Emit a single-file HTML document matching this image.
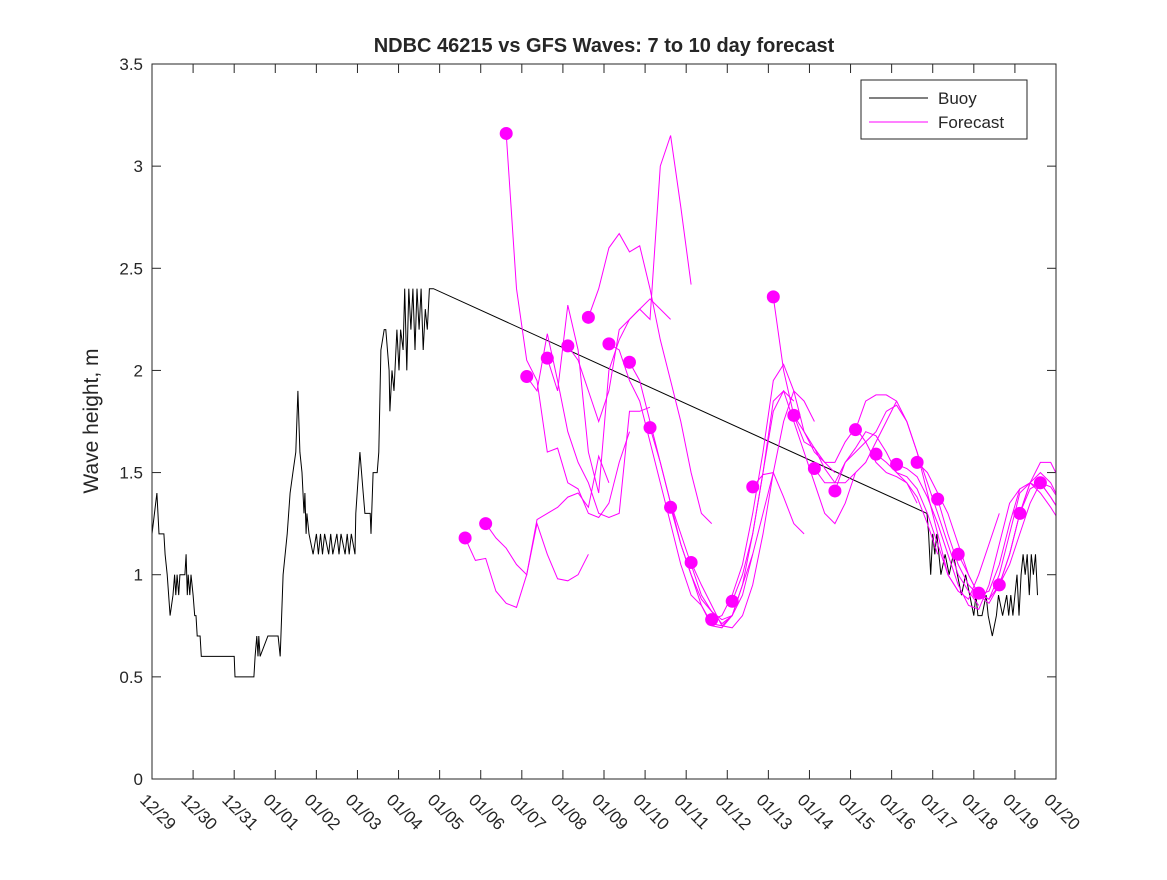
<!DOCTYPE html>
<html><head><meta charset="utf-8"><style>
body{margin:0;background:#fff;}
svg text{font-family:"Liberation Sans",sans-serif;fill:#262626;}
</style></head><body>
<svg id="chart" width="1167" height="875" xmlns="http://www.w3.org/2000/svg">
<rect x="0" y="0" width="1167" height="875" fill="#fff"/>
<defs><clipPath id="plotclip"><rect x="152" y="64" width="904" height="715"/></clipPath></defs>
<text x="604" y="52" text-anchor="middle" font-size="20" font-weight="bold" fill="#000">NDBC 46215 vs GFS Waves: 7 to 10 day forecast</text>
<text transform="translate(98,421) rotate(-90)" text-anchor="middle" font-size="21">Wave height, m</text>
<g id="axes"></g>
<g id="series" clip-path="url(#plotclip)"></g>
<rect x="152" y="64" width="904" height="715" fill="none" stroke="#262626" stroke-width="1"/>
<g>
<rect x="861" y="80" width="166" height="59" fill="#fff" stroke="#262626"/>
<line x1="869" y1="98" x2="928" y2="98" stroke="#000"/>
<text x="938" y="104" font-size="17">Buoy</text>
<line x1="869" y1="122" x2="928" y2="122" stroke="#f0f"/>
<text x="938" y="128" font-size="17">Forecast</text>
</g>
</svg>
<script>
const xTickLabels=["12/29","12/30","12/31","01/01","01/02","01/03","01/04","01/05","01/06","01/07","01/08","01/09","01/10","01/11","01/12","01/13","01/14","01/15","01/16","01/17","01/18","01/19","01/20"];
const yTicks=[0,0.5,1,1.5,2,2.5,3,3.5];
const yTickLabels=["0","0.5","1","1.5","2","2.5","3","3.5"];
const buoyTimes=[0,0.12,0.17,0.29,0.32,0.37,0.44,0.51,0.55,0.58,0.61,0.65,0.68,0.72,0.8,0.83,0.86,0.88,0.92,0.95,1.0,1.04,1.07,1.1,1.17,1.2,1.25,1.41,2.0,2.02,2.48,2.51,2.55,2.58,2.6,2.63,2.82,3.07,3.12,3.19,3.29,3.36,3.43,3.5,3.55,3.6,3.65,3.7,3.72,3.75,3.77,3.82,3.92,4.0,4.05,4.1,4.15,4.2,4.3,4.35,4.4,4.5,4.55,4.6,4.7,4.75,4.8,4.85,4.94,4.96,5.06,5.14,5.18,5.31,5.33,5.38,5.48,5.52,5.57,5.65,5.69,5.77,5.79,5.84,5.89,5.96,6.01,6.05,6.11,6.15,6.2,6.25,6.3,6.35,6.4,6.45,6.5,6.55,6.6,6.65,6.7,6.75,6.85,18.86,18.9,18.95,19.0,19.05,19.1,19.15,19.2,19.3,19.4,19.5,19.6,19.7,19.8,19.9,20.0,20.05,20.1,20.2,20.3,20.35,20.45,20.55,20.6,20.7,20.8,20.85,20.9,20.95,21.0,21.05,21.1,21.15,21.2,21.25,21.3,21.35,21.4,21.45,21.5,21.55,21.6];
const buoyValues=[1.2,1.4,1.2,1.2,1.1,1.0,0.8,0.9,1.0,0.9,1.0,0.9,1.0,1.0,1.0,1.1,0.9,1.0,0.9,1.0,0.9,0.8,0.8,0.7,0.7,0.6,0.6,0.6,0.6,0.5,0.5,0.6,0.7,0.6,0.7,0.6,0.7,0.7,0.6,1.0,1.2,1.4,1.5,1.6,1.9,1.6,1.5,1.3,1.4,1.2,1.3,1.2,1.1,1.2,1.1,1.2,1.1,1.2,1.1,1.2,1.1,1.2,1.1,1.2,1.1,1.2,1.1,1.2,1.1,1.3,1.6,1.4,1.3,1.3,1.2,1.5,1.5,1.6,2.1,2.2,2.2,2.0,1.8,2.0,1.9,2.2,2.0,2.2,2.1,2.4,2.0,2.4,2.2,2.4,2.1,2.4,2.2,2.4,2.1,2.3,2.2,2.4,2.4,1.3,1.2,1.0,1.2,1.1,1.2,1.1,1.0,1.1,1.0,1.1,1.0,0.9,1.0,0.9,0.8,0.9,0.8,0.8,0.9,0.8,0.7,0.8,0.9,0.8,0.9,0.8,0.9,0.8,0.9,1.0,0.8,1.0,1.1,1.0,1.1,0.9,1.1,1.0,1.1,0.9];
const fcStart=[7.62,8.12,8.62,9.12,9.62,10.12,10.62,11.12,11.62,12.12,12.62,13.12,13.62,14.12,14.62,15.12,15.62,16.12,16.62,17.12,17.62,18.12,18.62,19.12,19.62,20.12,20.62,21.12,21.62];
const fc1=[1.18,1.07,1.08,0.92,0.86,0.84,1.0,1.25,1.1,0.98,0.97,1.0,1.1];
const fc2=[1.25,1.18,1.13,1.05,1.0,1.27,1.3,1.33,1.38,1.4,1.33,1.58,1.45];
const fc3=[3.16,2.4,2.05,1.95,1.6,1.62,1.45,1.42,1.3,1.28,1.35,1.55,1.7];
const fc4=[1.97,1.9,2.18,1.95,1.7,1.55,1.45,1.3,1.28,1.3,1.8,1.8,1.82];
const fc5=[2.06,1.9,2.32,2.1,1.6,1.4,2.0,2.15,2.25,2.3,2.35,2.3,2.25];
const fc6=[2.12,2.05,1.9,1.75,1.9,2.2,2.25,2.3,2.25,3.0,3.15,2.8,2.42];
const fc7=[2.26,2.4,2.6,2.67,2.58,2.61,2.4,2.15,1.95,1.75,1.5,1.3,1.25];
const fc8=[2.13,2.1,1.95,1.85,1.65,1.45,1.25,1.05,0.9,0.85,0.75,0.74,0.8];
const fc9=[2.04,1.95,1.75,1.55,1.35,1.15,1.0,0.85,0.76,0.75,0.8,0.95,1.1];
const fc10=[1.72,1.55,1.35,1.2,1.05,0.9,0.82,0.78,0.8,0.9,1.1,1.3,1.5];
const fc11=[1.33,1.15,1.0,0.88,0.82,0.76,0.8,0.95,1.2,1.5,1.8,1.9,1.85];
const fc12=[1.06,0.95,0.85,0.75,0.74,0.8,0.95,1.2,1.5,1.75,1.9,1.85,1.75];
const fc13=[0.78,0.8,0.9,1.05,1.3,1.6,1.95,2.03,1.9,1.7,1.6,1.55,1.5];
const fc14=[0.87,1.0,1.2,1.5,1.85,1.9,1.75,1.6,1.45,1.3,1.25,1.35,1.5];
const fc15=[1.43,1.49,1.5,1.38,1.25,1.2];
const fc16=[2.36,2.0,1.78,1.65,1.62,1.52,1.45,1.45,1.5,1.55,1.65,1.75,1.85];
const fc17=[1.78,1.7,1.62,1.55,1.55,1.65,1.72,1.65,1.55,1.5,1.48,1.45,1.35];
const fc18=[1.52,1.45,1.45,1.55,1.62,1.7,1.68,1.6,1.5,1.45,1.38,1.25,1.1];
const fc19=[1.41,1.55,1.6,1.65,1.7,1.8,1.83,1.75,1.6,1.4,1.2,1.0,0.92];
const fc20=[1.71,1.85,1.88,1.88,1.85,1.75,1.6,1.45,1.3,1.15,1.0,0.92,0.85];
const fc21=[1.59,1.55,1.5,1.48,1.42,1.3,1.15,1.0,0.92,0.88,1.0,1.15,1.3];
const fc22=[1.54,1.52,1.48,1.38,1.25,1.1,0.95,0.85,0.83,0.95,1.15,1.35,1.42];
const fc23=[1.55,1.5,1.4,1.3,1.15,1.0,0.9,0.88,1.0,1.2,1.4,1.45,1.42];
const fc24=[1.37,1.2,1.05,0.95,0.9,0.92,1.05,1.25,1.42,1.45,1.4,1.33,1.25];
const fc25=[1.1,1.0,0.9,0.86,0.95,1.1,1.3,1.45,1.5,1.45,1.35,1.3,1.25];
const fc26=[0.91,0.88,0.95,1.1,1.3,1.45,1.55,1.55,1.45,1.35];
const fc27=[0.95,1.05,1.2,1.35,1.45,1.43,1.35,1.3];
const fc28=[1.3,1.42,1.45,1.38,1.3,1.22];
const fc29=[1.45,1.38,1.3];
const forecasts=[fc1,fc2,fc3,fc4,fc5,fc6,fc7,fc8,fc9,fc10,fc11,fc12,fc13,fc14,fc15,fc16,fc17,fc18,fc19,fc20,fc21,fc22,fc23,fc24,fc25,fc26,fc27,fc28,fc29];
const fcStep=0.25;

const NS="http://www.w3.org/2000/svg";
const X0=152,X1=1056,Y0=779,Y1=64,DAYS=22,YMAX=3.5;
function xs(d){return X0+d*(X1-X0)/DAYS;}
function ys(v){return Y0-v*(Y0-Y1)/YMAX;}
function mk(tag,attrs,parent){const e=document.createElementNS(NS,tag);for(const k in attrs)e.setAttribute(k,attrs[k]);parent.appendChild(e);return e;}
const axes=document.getElementById('axes');
const series=document.getElementById('series');
yTicks.forEach((v,i)=>{
  const y=ys(v);
  const t1=mk('line',{x1:X0,y1:y,x2:X0+9,y2:y,stroke:'#262626'},axes);
  
  
  const t2=mk('line',{x1:X1-9,y1:y,x2:X1,y2:y,stroke:'#262626'},axes);
  
  
  const tx=mk('text',{x:X0-9,y:y+6,'text-anchor':'end','font-size':'17'},axes);
  tx.textContent=yTickLabels[i];
  
  
});
xTickLabels.forEach((lab,i)=>{
  const x=xs(i);
  const t1=mk('line',{x1:x,y1:Y0,x2:x,y2:Y0-9,stroke:'#262626'},axes);
  
  
  const t2=mk('line',{x1:x,y1:Y1,x2:x,y2:Y1+9,stroke:'#262626'},axes);
  
  
  const tx=mk('text',{transform:`translate(${x-13},${Y0+22}) rotate(45)`,'font-size':'17'},axes);
  tx.textContent=lab;
  
  
});
let bp=buoyTimes.map((t,i)=>xs(t).toFixed(1)+','+ys(buoyValues[i]).toFixed(1)).join(' ');
const bl=mk('polyline',{points:bp,fill:'none',stroke:'#000','stroke-width':'1'},series);


forecasts.forEach((arr,k)=>{
  const s=fcStart[k];
  const pts=arr.map((v,j)=>xs(s+j*fcStep).toFixed(1)+','+ys(v).toFixed(1)).join(' ');
  const pl=mk('polyline',{points:pts,fill:'none',stroke:'#f0f','stroke-width':'1'},series);
  
  
});
forecasts.forEach((arr,k)=>{
  const c=mk('circle',{cx:xs(fcStart[k]),cy:ys(arr[0]),r:6.5,fill:'#f0f'},series);
  
  
});
</script>
</body></html>
